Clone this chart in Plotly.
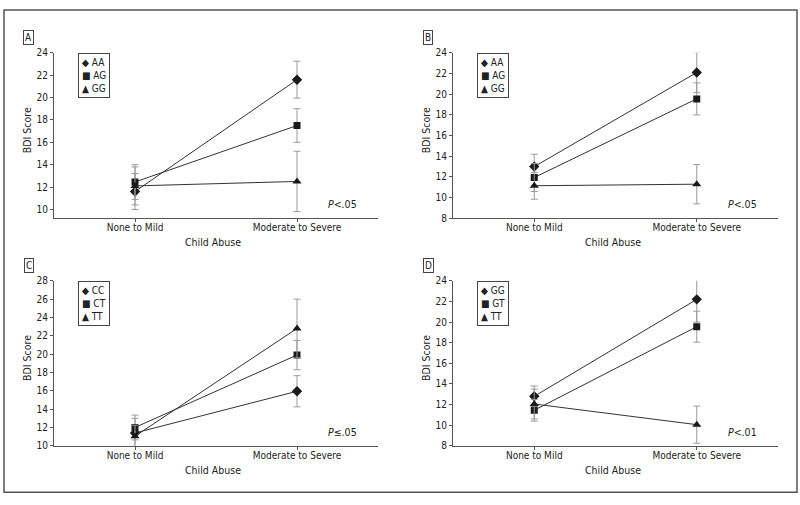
import plotly.graph_objects as go
from plotly.subplots import make_subplots

W, H = 800, 505
FONT = "Liberation Sans Narrow, DejaVu Sans Condensed, Roboto Condensed, Arial Narrow, sans-serif"
TXT = "#222222"

categories = ["None to Mild", "Moderate to Severe"]
symbols = ["diamond", "square", "triangle-up"]
glyphs = ["\u25C6", "\u25A0", "\u25B2"]

# Panel A
a_names = ["AA", "AG", "GG"]
a_means = [[11.6, 21.6], [12.45, 17.5], [12.1, 12.5]]
a_errors = [[1.6, 1.65], [1.55, 1.5], [1.7, 2.7]]
a_pvalue = "<i>P</i>&lt;.05"

# Panel B
b_names = ["AA", "AG", "GG"]
b_means = [[13.0, 22.1], [11.95, 19.55], [11.15, 11.3]]
b_errors = [[1.2, 1.95], [1.35, 1.55], [1.3, 1.9]]
b_pvalue = "<i>P</i>&lt;.05"

# Panel C
c_names = ["CC", "CT", "TT"]
c_means = [[11.4, 15.95], [12.0, 19.9], [11.05, 22.8]]
c_errors = [[1.6, 1.7], [1.35, 1.6], [1.2, 3.2]]
c_pvalue = "<i>P</i>\u2264.05"

# Panel D
d_names = ["GG", "GT", "TT"]
d_means = [[12.8, 22.2], [11.45, 19.55], [12.05, 10.05]]
d_errors = [[1.0, 2.2], [1.05, 1.5], [1.45, 1.8]]
d_pvalue = "<i>P</i>&lt;.01"

panels = [
    dict(letter="A", names=a_names, means=a_means, errors=a_errors, p=a_pvalue,
         yrange=[9.2, 24], row=1, col=1),
    dict(letter="B", names=b_names, means=b_means, errors=b_errors, p=b_pvalue,
         yrange=[8, 24], row=1, col=2),
    dict(letter="C", names=c_names, means=c_means, errors=c_errors, p=c_pvalue,
         yrange=[10, 28], row=2, col=1),
    dict(letter="D", names=d_names, means=d_means, errors=d_errors, p=d_pvalue,
         yrange=[8, 24], row=2, col=2),
]

# plot-area boxes in pixels (left, right, top, bottom)
x_px = {1: (54, 378), 2: (453, 778)}
y_px = {1: (48, 217.5), 2: (281.5, 450.5)}


def px_x(v):
    return v / W


def px_y(v):
    return 1 - v / H


fig = make_subplots(rows=2, cols=2)

annotations = []
for pn in panels:
    r, c = pn["row"], pn["col"]
    for i, name in enumerate(pn["names"]):
        # connecting line
        fig.add_trace(
            go.Scatter(
                x=categories,
                y=pn["means"][i],
                mode="lines",
                line=dict(color="#333333", width=1),
                showlegend=False,
                hoverinfo="skip",
            ),
            row=r, col=c,
        )
        # markers with error bars
        fig.add_trace(
            go.Scatter(
                x=categories,
                y=pn["means"][i],
                mode="markers",
                name=name,
                marker=dict(symbol=symbols[i], color="#1a1a1a",
                            size=[8, 7, 8][i]),
                error_y=dict(type="data", array=pn["errors"][i], color="#9a9a9a",
                             thickness=1, width=3.5),
                showlegend=False,
            ),
            row=r, col=c,
        )

    x0, x1 = x_px[c]
    y0, y1 = y_px[r]
    fig.update_xaxes(
        domain=[px_x(x0), px_x(x1)], range=[-0.5, 1.5], type="category",
        showline=True, linecolor="#555555", linewidth=1, showgrid=False,
        ticks="outside", ticklen=3, tickcolor="#555555", ticklabelstandoff=-3,
        tickfont=dict(family=FONT, size=10, color=TXT),
        row=r, col=c,
    )
    fig.update_yaxes(
        domain=[px_y(y1), px_y(y0)], range=pn["yrange"], dtick=2,
        tick0=0, showline=True, linecolor="#555555", linewidth=1,
        showgrid=False, zeroline=False,
        ticks="outside", ticklen=3, tickcolor="#555555",
        tickfont=dict(family=FONT, size=10, color=TXT),
        row=r, col=c,
    )

    # axis titles
    annotations.append(dict(
        x=px_x(x0 - 27), y=px_y((y0 + y1) / 2 - 5.5), xref="paper", yref="paper",
        xanchor="center", yanchor="middle",
        text="BDI Score", textangle=-90, showarrow=False,
        font=dict(family=FONT, size=10.5, color=TXT),
    ))
    annotations.append(dict(
        x=px_x((x0 + x1) / 2 - 3), y=px_y(y1 + 24.5), xref="paper", yref="paper",
        xanchor="center", yanchor="middle",
        text="Child Abuse", showarrow=False,
        font=dict(family=FONT, size=10.5, color=TXT),
    ))
    # P value
    annotations.append(dict(
        x=px_x(x1 - 19), y=px_y(y1 - 14.5), xref="paper", yref="paper",
        xanchor="right", yanchor="middle", text=pn["p"], showarrow=False,
        font=dict(family=FONT, size=10.5, color=TXT),
    ))
    # panel letter box
    annotations.append(dict(
        x=px_x(x0 - 25), y=px_y(y0 - 16), xref="paper", yref="paper",
        xanchor="center", yanchor="middle",
        text=pn["letter"], showarrow=False, bordercolor="#444444",
        borderwidth=1, borderpad=1, bgcolor="white",
        font=dict(family=FONT, size=10, color=TXT),
    ))
    # legend box
    legend_text = "<br>".join(f"{g} {n}" for g, n in zip(glyphs, pn["names"]))
    annotations.append(dict(
        x=px_x(x0 + 24), y=px_y(y0), xref="paper", yref="paper",
        xanchor="left", yanchor="top", align="left",
        text=legend_text, showarrow=False, bordercolor="#444444",
        borderwidth=1, borderpad=3, bgcolor="white",
        font=dict(family=FONT, size=10, color=TXT),
    ))

fig.update_layout(
    width=W, height=H,
    margin=dict(l=0, r=0, t=0, b=0),
    plot_bgcolor="white", paper_bgcolor="white",
    showlegend=False,
    annotations=annotations,
    shapes=[dict(type="rect", xref="paper", yref="paper",
                 x0=px_x(4), x1=px_x(797), y0=px_y(498), y1=px_y(4),
                 line=dict(color="#555555", width=1.5))],
)

fig.write_html(
    "out.html",
    config={"displayModeBar": False},
    post_script="document.body.style.margin='0';document.body.style.overflow='hidden';",
)
